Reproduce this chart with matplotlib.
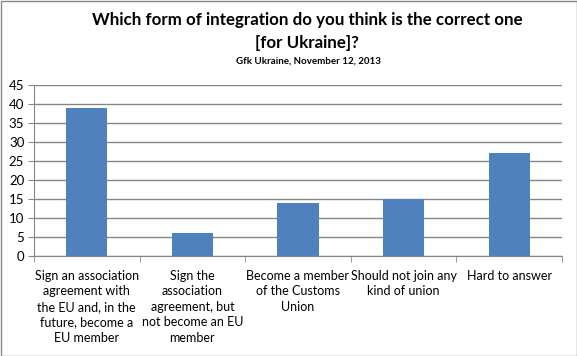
import numpy as np
import matplotlib
matplotlib.use("Agg")
import matplotlib.pyplot as plt
from matplotlib.patches import Rectangle

categories = ["Sign an association\nagreement with\nthe EU and, in the\nfuture, become a\nEU member",
              "Sign the\nassociation\nagreement, but\nnot become an EU\nmember",
              "Become a member\nof the Customs\nUnion",
              "Should not join any\nkind of union",
              "Hard to answer"]
values = [39, 6, 14, 15, 27]
yticks = list(range(0, 46, 5))

bar_color = "#4f81bd"
grid_color = "#868686"

plt.rcParams["font.family"] = ["Lato", "DejaVu Sans"]

fig = plt.figure(figsize=(5.77, 3.56), dpi=100)
ax = fig.add_axes([34/577, 1-256/356, (562-34)/577, (256-85)/356])

x = np.arange(len(values))
ax.bar(x, values, width=0.39, color=bar_color, zorder=3)

ax.set_xlim(-0.5, len(values)-0.5)
ax.set_ylim(0, 45)
ax.set_yticks(yticks)
ax.set_yticklabels([str(t) for t in yticks], fontsize=9.5)
ax.yaxis.grid(True, color=grid_color, linewidth=1, zorder=0)

ax.set_xticks(x)
ax.set_xticklabels(categories, fontsize=9, linespacing=1.35, va="top")
ax.tick_params(axis="x", length=0, pad=10)
# boundary ticks between categories
ax.set_xticks(np.arange(-0.5, len(values), 1), minor=True)
ax.tick_params(axis="x", which="minor", length=4, color=grid_color)
ax.tick_params(axis="y", length=4, color=grid_color, pad=3)

for s in ["top", "right"]:
    ax.spines[s].set_visible(False)
ax.spines["left"].set_color(grid_color)
ax.spines["bottom"].set_color(grid_color)

fig.text(307/577, 1-20/356, "Which form of integration do you think is the correct one",
         ha="center", va="center", fontsize=12.2, fontweight="bold")
fig.text(307/577, 1-43/356, "[for Ukraine]?",
         ha="center", va="center", fontsize=12.2, fontweight="bold")
fig.text(308/577, 1-61/356, "Gfk Ukraine, November 12, 2013", ha="center", va="center",
         fontsize=7, fontweight="bold")

fig.patches.append(Rectangle((0.5/577, 0.5/356), 1-1/577, 1-1/356, transform=fig.transFigure,
                             fill=False, edgecolor="#868686", linewidth=1))

fig.savefig("out.png", dpi=100)
